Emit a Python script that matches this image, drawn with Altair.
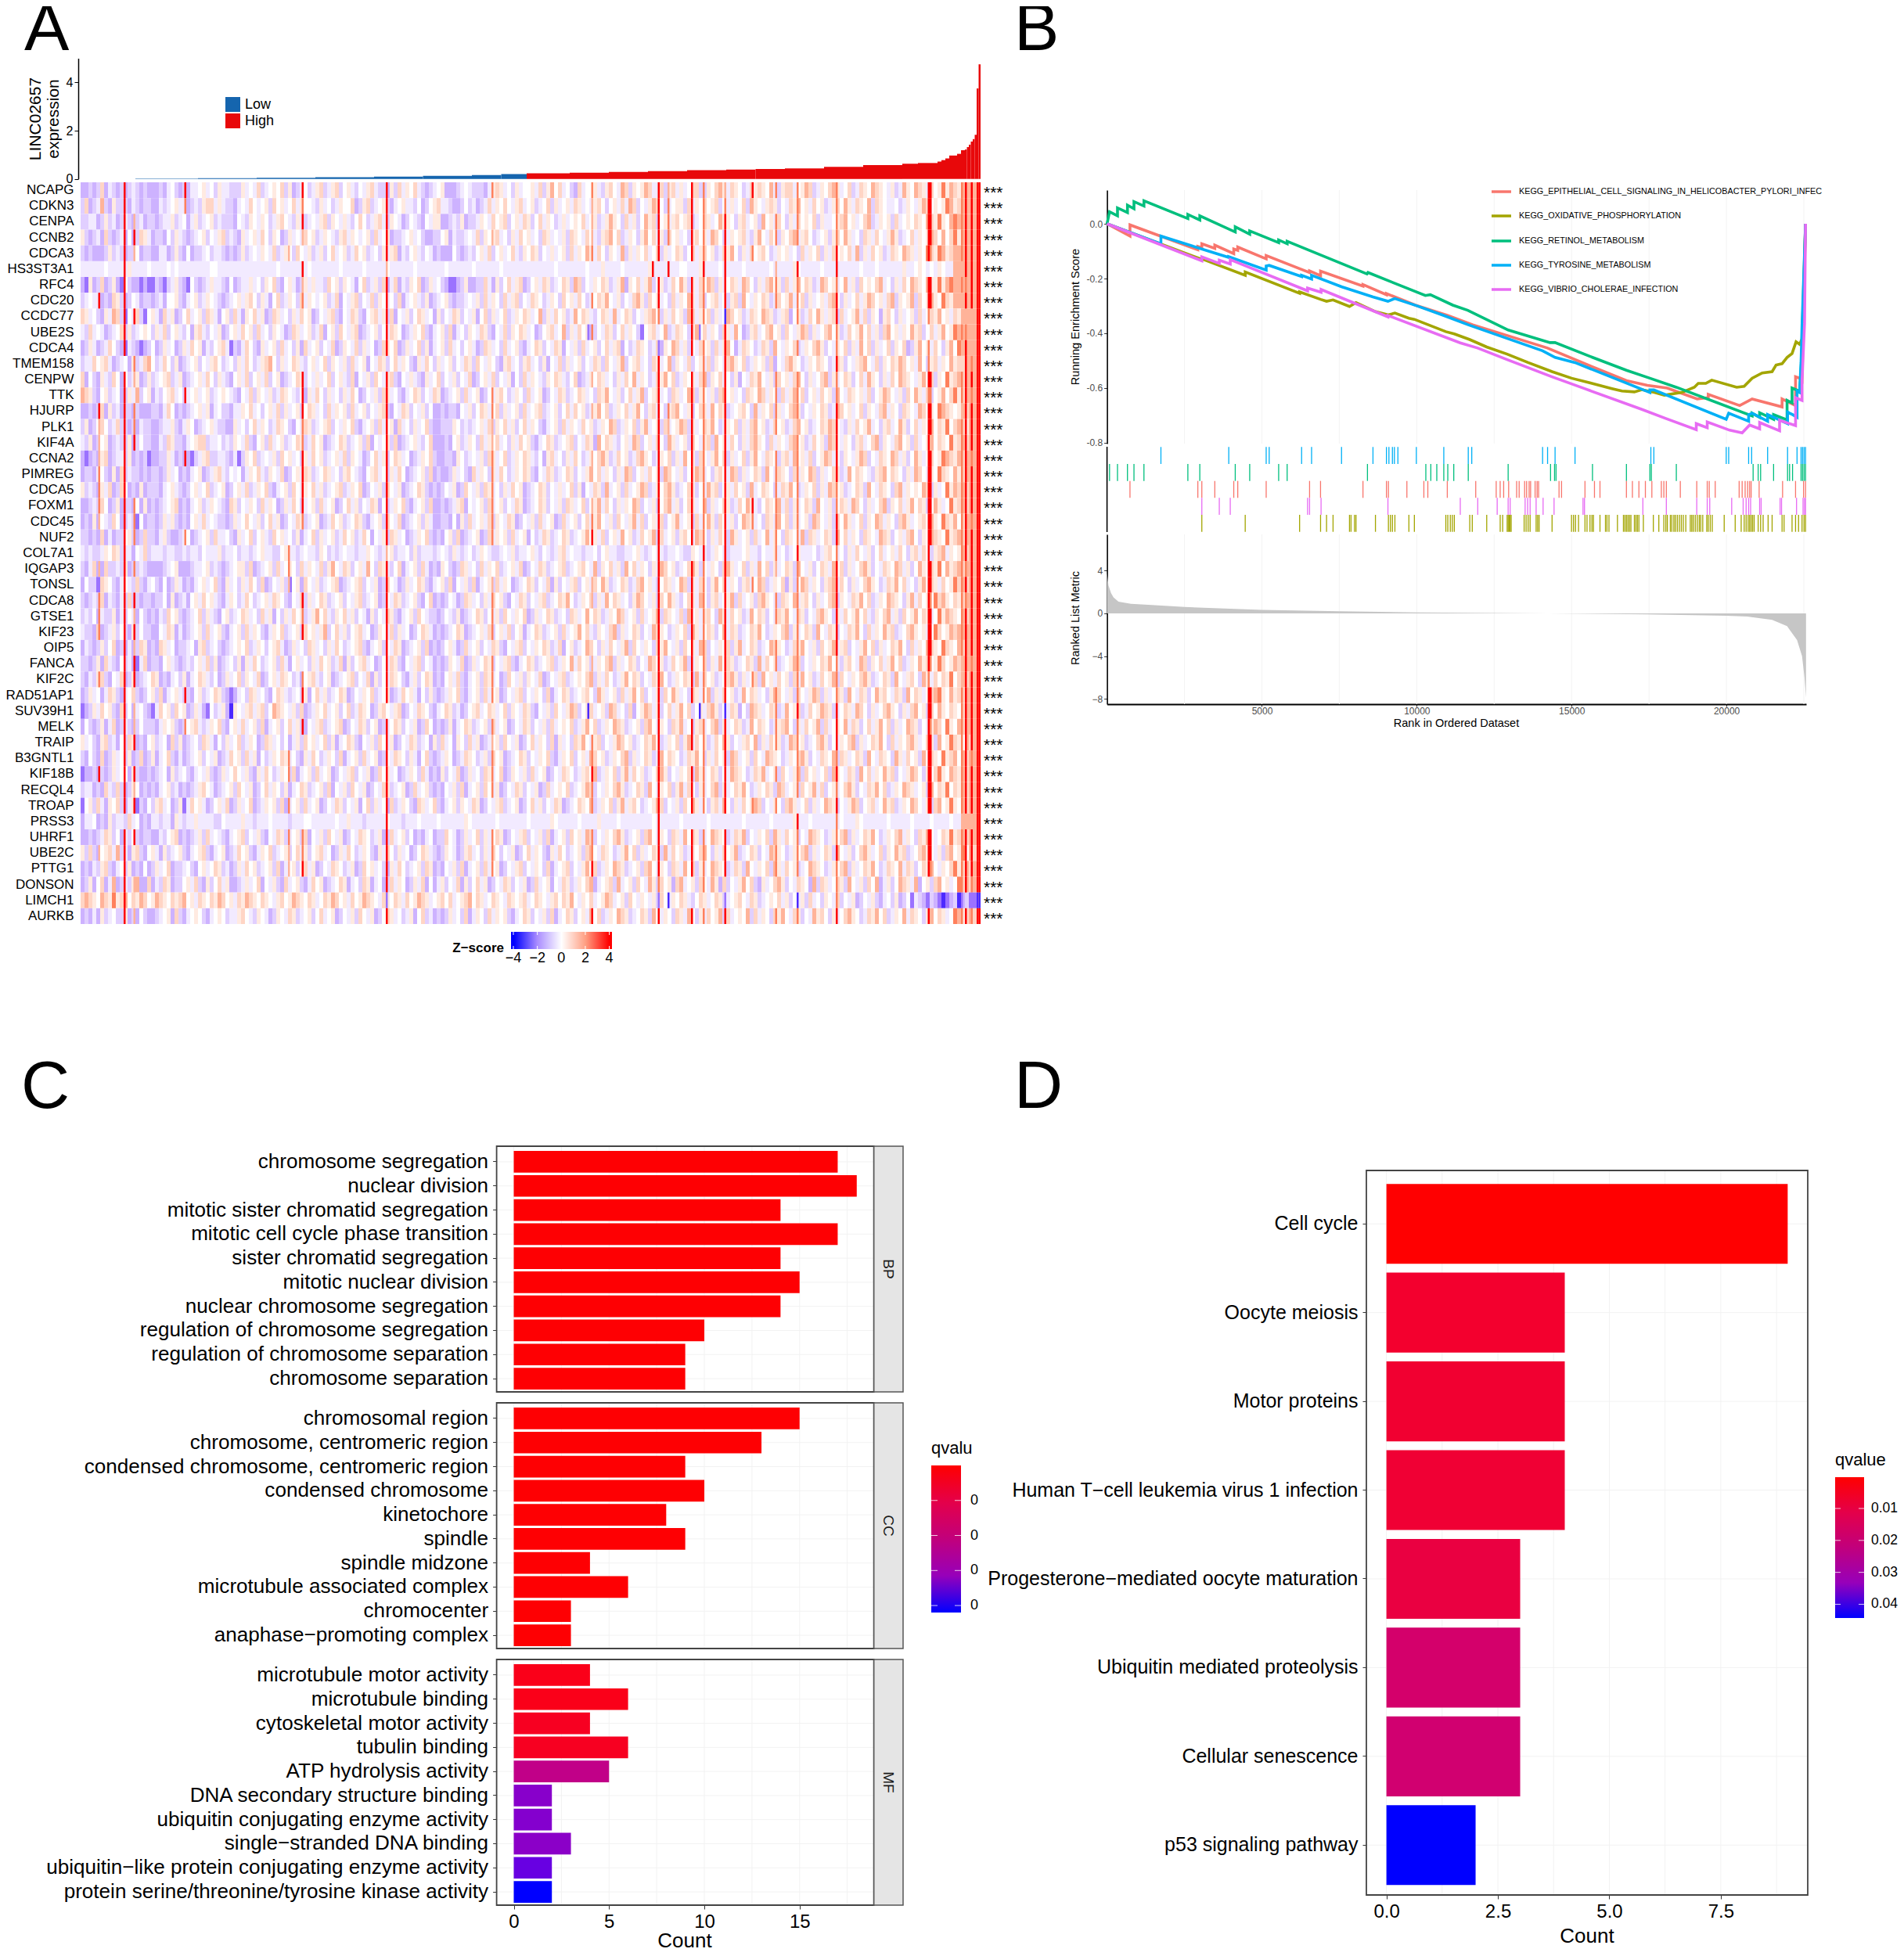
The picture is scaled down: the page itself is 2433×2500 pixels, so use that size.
import altair as alt

W, H = 2417, 2484
OX = 8
FONT = "Liberation Sans"

def px(v):
    return v - OX

def sc(dom, rng, **kw):
    return alt.Scale(domain=dom, range=[px(rng[0]), px(rng[1])], nice=False, zero=False, **kw)

def band(dom, rng, pi=0.0, po=0.0):
    return alt.Scale(domain=dom, range=[px(rng[0]), px(rng[1])], paddingInner=pi, paddingOuter=po)

def D(rows):
    return alt.Data(values=rows)

L = []

def T(txt, x, y, size, align="left", baseline="middle", angle=0, color="black", weight="normal"):
    L.append(alt.Chart(D([{"t": txt}])).mark_text(align=align, baseline=baseline, angle=angle, fontSize=size,
             color=color, fontWeight=weight).encode(text="t:N", x=alt.value(px(x)), y=alt.value(px(y))))

def BOX(x0, x1, y0, y1, fill="transparent", stroke=None, sw=1.5):
    kw = {"fill": fill}
    if stroke:
        kw.update(stroke=stroke, strokeWidth=sw)
    L.append(alt.Chart(D([{}])).mark_rect(**kw).encode(x=alt.value(px(x0)), x2=alt.value(px(x1)), y=alt.value(px(y0)), y2=alt.value(px(y1))))

def GRAD(x0, x1, y0, y1, stops, vertical=False):
    g = alt.Gradient(gradient="linear", stops=[alt.GradientStop(color=c, offset=o) for o, c in stops],
                     x1=0, x2=0 if vertical else 1, y1=0, y2=1 if vertical else 0)
    L.append(alt.Chart(D([{}])).mark_rect(color=g).encode(x=alt.value(px(x0)), x2=alt.value(px(x1)), y=alt.value(px(y0)), y2=alt.value(px(y1))))

# ---------------- Panel A data ----------------
genes = ["NCAPG","CDKN3","CENPA","CCNB2","CDCA3","HS3ST3A1","RFC4","CDC20","CCDC77","UBE2S","CDCA4","TMEM158","CENPW","TTK","HJURP","PLK1","KIF4A","CCNA2","PIMREG","CDCA5","FOXM1","CDC45","NUF2","COL7A1","IQGAP3","TONSL","CDCA8","GTSE1","KIF23","OIP5","FANCA","KIF2C","RAD51AP1","SUV39H1","MELK","TRAIP","B3GNTL1","KIF18B","RECQL4","TROAP","PRSS3","UHRF1","UBE2C","PTTG1","DONSON","LIMCH1","AURKB"]
bar_end = [28,60,90,120,150,175,200,215,228,250,270,290,310,330,345,360,380,400,420,428,438,440,442,444,448,450,452,453,454,455,456,457,458,459,460]
bar_val = [0.002,0.015,0.03,0.05,0.07,0.095,0.13,0.16,0.2,0.23,0.26,0.29,0.32,0.36,0.39,0.41,0.44,0.50,0.57,0.63,0.66,0.72,0.78,0.85,0.97,1.04,1.19,1.22,1.32,1.42,1.55,1.65,1.83,3.75,4.75]
LOW_END = 228
Z = {"a":-3.6,"b":-2.4,"c":-1.3,"d":-0.8,"e":-0.35,"f":0,"g":0.45,"h":0.9,"i":1.6,"j":2.6,"k":4}
heat_base = [
"ccdcdhcedcdcdedcdcccdcefdcdceefgefdgeedddgefehdefgfhdgcdefdeghdeghdfgedfegheddcgdhegfhedcdefgcccdefedddceghgefdgeffgehdgifhefdcheffgedghfeihdgfgiheehdghegefhhddgfhigehgfdehghgfiedghhefgihdegfhigefhdehgfihgfegdeigfihgehfgjgihg",
"dhcdeidcgdddcedcddccedefgeecdedghhegeddcefehfefgdhfgefhegffedgefdegffhcdghdefgdcefgeedfcdfgheedccdfdecdehegfhfeghefgdefhdgefgehgefeghfdfgeheihdfegihfdefggdhegfhfghdfegefhdigfeghgdfehgifgehfgdeghfigehgfidhgfeefdegfegihfgfgjigh",
"ddeecdgdecdedcdecddcdeegdefcegdefgdedddcfedgfegfdeghfedgedefeghdgfegedfhfdeghedgfecdfedcfeggccdedgcddegfehfghdfgehgdfhegfdegefgfhefgdegigfdhegdfighdfgeghfghdefhgefiggfdghefgdifgehfdgehfgfhdgeefghifgefhidegfgdhefgfhgfihgjgfij",
"gdcdechdcdecfcdhgecddcfdgedcdefgdfeghdedcgefgehfdgfcdgefehfgdegfedghegfefgdhefgcddefgefdccddfgceddefehdgfghefdgehfgefdhgefegdhgfehfedghifhdegfdgifhegdhfgefdghfgeihfdegfghedgifehfdgfhieghfdefgdghfigefdhgehfegigdefhegfgihfifhjg",
"dcdcccdgdedcddfcddcceecdgdcfcddefdeedcdcdgdefegfehdegfdhfegdegdfhefgdehfgdefdgeghcedfgedfecdcccfdcdedfgehdfgefhedgfhgdfegefgdhegfigehfdgfeidgegfhefhdgefhgdfheghfgdehgifdgehfghfdegfgefdhegfhdgehfgfheidgehfgdehgfihgegfjhgjigh",
"eeeeeefeeeeegeeeefeeeefefeeeeeeeeffeeeeeeeeeeeeeeefeeeeeeefeeeeeeefeeeeefeeeeefeeeeeefeeeeeeefeeeeeefeeeeeefeeeeeeeeeeeeefeeeeeeefeeegeeeefeeeeeegeeeeeeeffeeegeeeefeeeeefeeeeeefeeeeegfeeeeefeeeeeeeeefeeefeeeeeegeefgfefegfee",
"cbgcdhcdgcbfdccbcbbdcbdegdcbfdcdegeedcfcdeegefdgfhdcfgecdgegeedhfgdgfecfhdegdhcehcedgfhcdgefdcbbcdgccddhecgdfheghcdfgehgdefhgdihdfegfhgdegicgfhegidfgdehfigdgehfihdgefhgeihfdgehifgdhegifhgdeihfgefiegdhfgfhiefdgehfihgfiggjgij",
"defeecdchgdcdfecddcdecffgdcefgdegfedcdefgeghfdgecfhdegfdhegfefgdehcfeghdfehdgfefdhcefgedgcdefgdcddefegdhegfdheghdfehgfdegfdhfgehfdefhgifegdfehigdhfgefdhegfigehdfghefdghdifegfhgdehfgiefhdgefgehifdgefhegihfgehidgfgidhfgigfjhgi",
"hgefdcgeihdbfehdbfgechegcdfhefgdhgecfgdhecgfhegcdhgefdgehfgcdfeghdcfehgdcfghegdhcfegdfhgefcgdfehgdfegcfhdgefhdegfhgefidgehfgdeifhgedfhgeiefhgdfeghifdgehfgdihegfhdgefihfgdehgfihgdeghcfgdehfigeghdhefgiehdgfcghfdgefgdhefhgifgehg",
"edhefecdefhdgdefgfdgehdfgedfcghedfegcdfgehfgdhefdgfecdhgefgdehcfgdhfeghcdefgdfehgfcdegfhdcefgdhcefdgfehgdcfehdgfhgefcdfghefidgehfgcdfehgdfhegfdbfghefidehgfdgifhegfdhgeifcdghefhifgdhfegihdgefhifgdehfgifhegdhifgegfighdfhegifgj",
"cdgecdehfdcbedcbcdfcdgefcdgehfgcedfghebdcehfdcgefgdhefdgchefgdfehcdgfehdgefcdhgfhcdgefhdgcefgdhefdfgecdhgefdhefgdcefhgdfehgcfegdhefgdfheghcfdehgfdehcgfihegdfehfgdhegifcehgfdehgdifegfhdegfhigdfegfhdgeifhdgefhdgfhcdgifgehfdgifj",
"deehfghecdefcgdehifdehfdgcdefgdfeghfdefdgehfdeghifdgefhgedfgefhdgfegdhefgcfehgdfhegfdcgehfdgefgdfehgdhfegfdcghefdghefdgcfehdgefgdfehgdhfegidfghefdhgefidgfehdfgehdgfehigfhdegfgdhcfehigfdegfhgfdehgdfeghifehdgfhgihfgeifdghegfighhi",
"hcfdcgedhfcfdegcdgdefghdegcdefgehfdgedcfgehdfgehdfgcdefhgdfegefhdfgedhcfegdhfeghdcfegedcgefhdfegdfehcdfgehdfegcfdhegfedgfhgedfhcdegfhgefdgehfiegfdehgifhdegfgehidgfhefdgcfehgifegdhfgehifdgefhidgefhgdfheigfdgehfihgfegifhdgfjghih",
"ihgdcfgdefcdgeidfgcedfghefdefgefgdefgfedcfehdgfegdehgfedfcgehfdgefdgehfcdfegdhgefdcefhgdfehgcdefgdhefgcdfeghfdegfdhefgcdfehgdefhgefdhgifegdfhegidfghefdhgefihdgfegdhifgefdhgfihegfdhegifhdfgehfgdifehgfgehdfgihfegdhfigehdfgifhjghi",
"ccdcdhcgdecddcdcccddcehfcdcdefgegcefddceegfhefdfgehdgefgdfhgefdhegfgdhefgdfeghdcfehgdfegdfccdcddcfegdfhgefhdgefgdhefghdefgdfhehfgdegifhdegfhegifdghefdghifegdfhgeifhgdefghfdiegfhdgefhigdfegfhgdeihfgefhdgfehiegfdhgfeihfgfjihgfgih",
"dgcdfhfdehddcdceddccdeegdcegfcdefgeddccgefdfhegfdehgfdcfehgdefghdfegfhdcefgdhefgchefdgefhdccdddgfdedefgehdgfhegdfhegfdcefgdhegfehfgdegfihdegfhdgiefgdhefgihdgefhgifdegfhdgehifgdehfgdehifgdefhgihfedgehfgiefdghefigdfhegfifhgjfhihg",
"edgcdfgcdeddgcdfddccedhgddcefghhdeefdedgfehdcfgdhefgdefhgdehfgcdefhgdefgdhcfefgdhcdefgedfhcccdcfgdegfdhegfhefdgehfgdcefhgdefghdfehgcifhgedfgeihdfgehfdigefgdhfeghdifgehfdgehigfdhegfehifgdehfgdihfegfdghefhidgfehifgdhefgifhgfjghih",
"cbcdcghcdeedgcdcdbccddgecdccbdeghddeedcebdgfhdefegdhfgefdgehfgdefgehdgfecdfhegdfhgefcdegfhdccddcgfdefegdhgefhdegfhgedfcghefdgehfdegfhigdehfgdehigfdegfhdgeifgdhfegifhdgefhdgifehgfdgheifgehdfgihefdgfegihdfehgfihegdfigefhfgjihgih",
"cddcefdcgchdeddcdcddcdgefcdcefgcdeghedfefcegfhedgfehcdfgehgdefhgefdghfedcfghefdgehfcdefgdhcdccdgefdchegfdgehfdegfhgdcfehgdefhgdfegifhegfdgeihdfgehfgdihfegdfgihefdghfeihdgefhgdifehgfdhegfihdgefhgdeifhgfedghifhgfdgeihfegfjhgfighi",
"gdedcgehcdhfcdcgcdddcefgedcdfgefhdefgcdfgehdegfhdcefgdhfegfhegdefghdegfhcdfegdhfegcdefhgdcdcdfegcdhfegdhgefdgehfgcdefhgdfegefhdgcfehgdiefgdhefgihdegfhigdefhgdfeighdfgehfgdiefhgfdehgifdegfhdgeihfgdefhgdifehgfdhiegfgfihdgefjgihih",
"ccdedhfcdgcddcfcgcdcdefghcdcefgdegfedchgdfegfdhegfcdgehfdefgdhefgcdfhegdfehgcfdegfhdcefgdhccdcdeghcfefgdhefgdfehgcdefhgdfegdhgefhdfgiehfdgegfihdfegdfhiegdfhgefidgefhgdehfigedfhgfiehdgefhgdifegdfhgeihfdgefhidgfhegifhgdfigefjghih",
"cdcgcfedhfcdedbfcddcdgegdcdcfgehefeddcdgefhfegdfhegcdfehgdefgcdehfgdefhgdcefgdhfehcdefgdgeccddcfcgdhefgehdgfehgcdfegdhefgcdhefgdfhegifegdhfegiehdfgehdfgiefgdhefigdhfegdfihgefdhgeifhdgefgdihfegdhfigefhdgfihegfdhigefghfigfjhgifhi",
"ddcdchcecddfgdcdhddcegdccdefcdefgdheefdcgefhdfgedhfgefdgcefhdgefgdehfgdehfcfegdhgefcdegfhdcdcfgdhcdefgcdhegfgdhefgcfdehgdefhgdefgifgehdfgeifgdehfgidhefgdghfeihfdgehfdigefgdhefiegfdhgfeidhgefhgdifhegfdhgfeihgdfgehifdgfihgfjghih",
"ededdegfhgdeecfehdeeedeeddedeedfeeegdeefdeedefgeeddfgeedefeedgfdedefeedeegfedefgdeefdgdeeedefedgedefdegfeddefegdeefgedfedeghefeedeefdfgeeddeefgedefeedeefeddgfeedegfedeeefgeedfeegefdefgeeefdeghfefdgehfegdfhefgehfdghehfdghiegfgih",
"dcehcchddedgcddedccccdefgcccdeefgdedcdefggdhcdefgdhefgfdhegfehdgifehgdfgeifdhgedfhcefgdhecdcgfdcdhgefdhegfhdefgehcdfehgdefghdefghfeidgfhegdifhegfdgeihfgdefhigdfegfdhigefhdgeifhdgefhgdifegdfhgeifhdgefhigdfehgfihegdfigfhgjfighih",
"cfddbhgfdcefedhdcefdcfcdgecdcefgefhdcgefdgehfdhcdfegdbfgchfegdefghcdefghdfegcdhfecdgefhgdcefgdhcfegdhcefgdhegfcdefhgdfehcgdfeghdfgehfigdefhgdehifgedfhgefihdgehfdgifhegfdghefihdegfhcgdfihegfdghiehfdgefhigfdehgifhefdgifhgehfgjhih",
"dcdedhcedcedhddcddcddfcgcdecfgehfgedcegfdehfdefgehgfdcfehdgefhgdefgdfeghdefgcdfehgdefgdcfhcdcdfecdhgefdgehfgdcfehgdfeghdefhgifdegfhdgeifhgefdgihfegdhfigedfhgeifdghefgidhefgdhigfedhgfieghfdgefhidgfehgifhdegfihgfdgiehfgfjhigfhghi",
"dedfceddgcedfecfdcdcedhfgdcdefhdgedcfgdefhgefdhegcfdgehfgdegifhedgfhegdfecgdfehgdcefgdhfeddcdfedgcdefhgdfegdhfegfhcdgefhgdefdhgefifhgdegfihefgdhefgidhgfehdifgeghfdigehfgdeifhgdfehgifehgdfehigfdgehfgifhedgfhiegdhfgifhgefjgihgfih",
"eddchcdegdfdcgdfddccfehgcecdefgdhefgdcefgdhegfdcegfhdefgdhfgegidfhegdfghefcdgfehdgefcdfhgecdcdefhgcdefgehdfgehdfgcefhgdefgdhefgifhedgfehidgefhgdfeihgfdegfhdigefhgdfiehgdefhgifdegfhidgefhgdifehgdfehgifdhegfighdefhigfgefjhfgihi",
"cedcdgdfhcdcecdhgcdchgefcddefcghdefdcdefgfhdegfdfghecdgefdhgefdgehfdefghdcefgdfehgcdefgdhcdcdfgecdhefgdfehgdcfeghdfegfhgdehcfgdefihfdgehfegidhfegfdhgifegdhfgeihdfegfhdgiefhgdefihgfdehgifegdhfgieghdfegifhdgefhgifdhegfihgfjhgfihi",
"ddcdgchedcfdecbehcddcfgedcdedfgehdgcdefdgcgehfdefgdhecfgefdgehfgdehcgdfghefcdfehgdcfeghdfecdcdgfehcdgefhgdfeghdcefhgdefghdegfiehfgdegfhidgefhgdfeihfgdehfgidegfhdgeifhgdefhgdiehfgdefgihdfegfhgifedghfeihdgfhegifhdegfighfgjhfgihi",
"dcedghdcfehcdgcdefhgcdcefdgcefhgedfcdgefhdgfehcdfgehgfdecfghedfgcdefghdfehcgdfehgfdcegdfhgcdcfgehdcefgdhgefcdhfegdgfehcdfeghdefgfhidgehfdegifhgdfehgifdegfhgdiehfgdefhigdgefhdifgehfgdheifgdehfgidhfegfhigdefhgdifeghfdigehfhgjfhih",
"cdgefcehgdcefhdcdfgdhcefgeddcfgdefhgdcbcefdhgefdcfhgedefdgcfhegdefhgcdfegfhdefgcdehfgecfdgdcdegfhdcefgdhefgcdfeghdfegfdhcefhgdefghfdigefgdhegifhdfegdhfigefdhgefidgehfgdeifhgefdgihfegdhfegihdgefhgdifehgdfighfehgdifhgefhijgfighhi",
"bcdgehfgdchdfcefdcbehfgdhfgcdgecbfdegcagfegheghdfihgfegdhcdegfhefgdfhdehgfcdghfeghcdfehgfdcefhgdecdfghefhgefhdgfehgdcfegdhfegihdfghefgdihefdhcfgihegdfhegifhdfgehigdfehgcfdihgefhgdeifghdehfgihgdefhgeihfdgefhigfdgehifgdhfigfhgfhi",
"cfdcdgcehcdedcdfdddcegfgdcdfghedegfhdcfgehefgdhcefgdfhegdcfeghdefghcdfehgdfgcdefhgdfegcdhfcdcdgcefhgdefgdhefgcdfehgdfegdhefgfhdegifhdegfihgdefgdhifegfdhgiefdghefhidgefhgdeifhgfdeghifdgehfgidhefgfiehgdfhegifhdgefihgdfegihfjgfihi",
"gefdcghdecfdhgcdcfgdefchdgcdefdhgecfdgefhdegfcdhgefdfcegdhfgefhdgcefhgdcfegdhfegcdfehgdefcgdhefcgfdhegcdefgdhfegcdfhegfdhcgefdhgifeghdfegihfgdefhgifdegfhdgiehfgdehfigdfeghfidgehfgdeihfgdefhigdfegfhidgefhgifdhegfhigefhgdifgjhgfih",
"dcfdchcdgefdgcdhcdgcefhdcecdefgdfegcdehfgdhegcfdegfhgefdcgehfdegfdhcefgdhefgcdfehgfdgecfhdcdegfcdehgfdegdhfgcdefhgdfegfhdcegfhdfgeihfgdegfhidgefhgdeifhgfdehgifdgehfgdihefgdhfeihgfdegfhigdfehgfidhgefhgdifehgfdigehfgdifhgfjghifih",
"bccdcdcdgeffcgdccdcdefcgdefdcefegdcdgefhfegdcgehfdegfdhcefgdhefgcdfeghdfegcdhfgefcdegfdhecdcgdfehcdgefdhgefhcdgfegdhefgcdfehgfdeghfidegfhdgiehfgdefhigdfegfhdigefhgdfeihgfdehgiefgdhfegidhfgefhdigfehgdifhegfighdfegihfdgfhjgfihgih",
"deecdchedhdcdgfcdcdcefgdecdcdeghfecdefgdhfegcdfhegfdgcefhgdefgdhcfegdhfegcdfehgdefgcdhefgdcdcfegdhcefgdhfegcdfehgdfegcdhefgfhdefgihdfegfhigdefhgdifegfhdgiehfdgefhidgefhgifdegfhgdihefgdhfgiehdfgefhigdfehgifhdegfihgefgdifhgjfhgih",
"bfgdhecgfhdcegbdcfdghefcdgbehfgecdfgehcdgefhcdegfgdhcefgdhefgcdfehgdfegcfhdgefchdegfdchgefhdcefgdgfehgcdfeghdefgcdfhegdfehgcdefhgfidegfhdgieghfdefgihdfegdhfigefdgheifdgehfgihdfegfdhigefhdgefihgdfegihdfghefighdegfihfegdhifgjgfih",
"ceefcdcgdeedhefcdceedeecgedeegeeeeddfeeeegeedeeefeeeedeeeffeeeeeefeegeeedeeeeefeeedeeefeeeefeeeeeegfeeeeeefeeeeeeefeeeeegfeeeeefeeeegeeeefeeeeeeeefeeeeeefeeeeeefeeeeeeeefeeeeeefeeeeegeeefeeeeeeefeeegfeeeeeefeeeeefeeeefeeeefee",
"ccdcdehgdfcedfdcddccedfghcdcdegdhefedcefghdfegdcfehgdefgdhcfegdhfegcdfehgfdegcdhefgdfcdcefcddhfecdgefhdgefhgcdfeghdfegdhcefgdhfgeihdfegfhigdefgdhifegfdhgeifhgdefihgfdehgidfegfhdigehfgdfeihgfdegfhidgefhgifdegfhiegfdhgifefhgjghihi",
"gdhdcfgheidecghdcfgecgdefgdcefghdcefgcdehfgdcegfhdefgdfhegdfghefcdgehfdegfdcgehfdgefcdfhgedcdgfecdghefdgehfdfegcdfhegfdcgehfdefgdhifehgfdegifhdgefhgdiehfgdegfhifdgehfgidefhgdfeihgfdegfhidgefhgdifegdfhigefhdgfighdefhigfegdhifgjfih",
"cdcedghdcefdgcdcfcdgefhcddefdcfgefhgdecdgehfgdefgdhcefgdfhegcdfehgfdegcdhfgefdcgehfdefgdhgcdcfegdhcefgdhefgcdfeghdfegfdhcefghdfegifhdegfihgdefgdhifegfdhgeifhdgefihgfdehgdifegfhdigehfgdefihgfdegfhidgefhgifdehgfiehgdfhgifegfhjghih",
"cdgcfhceicdedgicchcedhgcddfgehdcgdfhegccdegefhcfegdchefgdcehfgcdefhgcefdhgcefcdhegfcdgehcfcegdfehcgdfhegcdfehgdfegcdhefgcfehgdegfhicefghdiefgdhfeigdhfgchiefgdhfeigchdfegifhdcgefhigdfehgfcidhgefhgdifegdhficegdfihgeicfgdhifgefjhih",
"hihgfihgjghifhgihfgihgfhghifgehgfhgihfgehgihgfhgfeghfgihgfhgefhgihfgehfgihgfehgfhgehfgihgefghfhefghifhgefhgfehgfghefhgfeghfhgifegfhefgihefgdhfegfegdhfegfhgedfhgefhgdefghfehgdefgfhegdfegdhefdgfehdfegcdfegdcefdgcdfbedcbdcbabcdacdbb",
"cdcecgdefddgcdcfdccdefgchdcefgfdcefgfdeeghfedgfecdgfehgdefgdfhefgcdfegdhfegcdfhgefdegcfhdecdcdgefdhcegfdhegfgdcefhgdfegdhcefhgdfgeifhdegfihgdefhgdifegfdhgeifdgehfgidhefgfidhegfdhgifehgdfeighfdgefhigfdehgifhdegfiehgfdgifhgefjighih",
]
heat_base = [s.ljust(230, "i")[:230] for s in heat_base]
stripes = {
9:".......k.." "....kiiijj" "ji..i.jjj." ".j.....k.." "..i....",
22:"kkkkkkkkkk" "k.kkkkkkkk" "kkkkkkkkkk" "kkkkkkkkkk" ".kkkkkk",
27:"..iki...k." ".ji.jjk..." "jjj.j.kiki" "kk.iik.kik" ".k..i.i",
53:"kj........" "...k...k.." "..j......." "..k.j....." ".......",
106:"....i....." ".........." "...jji...." "......jj.j" ".jii...",
113:"kjki.kij.." "..kkkjjkkk" "kj....kjk." ".jk.k....." ".jjk...",
156:"kkkkkikkkk" "k.kkkkkkkk" "kkkikkkkkk" "kkk.kkkkkk" "kkkkkbk",
210:"j..i......" "...jjiijjj" "jjj..ijjj." "jjj.jijjj." ".jjj...",
259:".........b" ".........." ".........." "...a......" ".......",
261:"jiiij..j.j" "..i.i..i.." "ijk..ii..." "i....jjkjj" ".jjk..k",
292:".....k...." ".........." ".........." ".........." ".......",
295:"kkkkk.kkj." "bkkkkkkkkk" "kkkkkkkkkk" "kkkkkkkkkk" "kkkkjbk",
300:"ijjj.k...." "....ji...." ".........." ".........." ".....a.",
312:"kkkkk.kkkk" "k.kkkkkkkk" "kkk.kkkkkk" "kkk.kk.kkk" ".kkk..k",
316:".........b" ".........." ".........." "...a......" ".......",
318:"jjjjjkjjj." "jjjjjjjjjj" "jjjkjjjjjj" "jjj.jjjjjj" ".jjjj.j",
329:"ijkkkkkkak" "kkkkkkkkkk" "kkkkkkkkkk" "kkkakkkkkk" ".kkk.bk",
343:"ki..j....." ".........." "kj...j...." ".j.......j" ".......",
355:"j.jj.ijj.." "..jjjj.jjj" "jjjji.jj.j" "j.jjjj.j.j" "..jj..j",
366:"jjjj.kjjj." "j.jjj.jjjj" "jjjkjjjjjj" "jjjkjjjjj." "kjjj.aj",
386:"jjjjkkjkkj" "jkjjkkkkkj" "jkkjkkkkkk" "jjjkkkjkjk" "jjkjjjk",
433:"kkkkk.kkj." "jjkjkkkkkk" "kkkkkkkkkk" "kjkkkkkkkk" ".kkk.bk",
434:"kkkkj.kk.." "..kjkk.kkk" "kkk.kkjkkk" "j.kkjkkkkk" ".kkj...",
450:"jjjjj.j..j" "..jj.jjjjj" "jjjjjjjjjj" "..jjjjjjjj" ".jjjjbj",
452:"kkkkkkjk.j" "kkkkkkkkkk" "kkkkjkjkkk" "kkkkkkkkkk" ".kkkk.k",
455:"kkkkkkkk.." ".jkjkkkjkk" "kjkkkkkkkk" "jkkkkkjkkk" ".kkkjbj",
458:"kkkkkkkkkk" "kkkkkkkkkk" "kkkkkkkkkk" "kkkkkkkkkk" "kkkkkak",
459:"kkkkkkkkkk" "kkkkkkkkkk" "kkkkkkkkkk" "kkkkkkkkkk" "kkkkkak",
}

# ---------------- Panel B data ----------------
es_red = [(0,0),(741,-.045),(741,-.004),(2932,-.095),(2932,-.083),(3061,-.088),(3061,-.073),(3480,-.09),(3480,-.078),(4092,-.109),(4092,-.092),(4221,-.097),(4221,-.085),(5139,-.128),(5139,-.116),(6540,-.178),(6540,-.172),(6895,-.19),(6895,-.173),(8264,-.228),(8264,-.222),(9022,-.259),(9022,-.255),(9956,-.297),(11003,-.335),(11809,-.369),(14225,-.454),(15836,-.53),(16771,-.573),(17447,-.59),(18092,-.6),(19058,-.64),(19413,-.635),(19413,-.623),(20428,-.664),(20830,-.64),(21797,-.669),(21797,-.64),(22232,-.664),(22232,-.559),(22361,-.564),(22441,-.573),(22554,0)]
es_olive = [(0,0),(3061,-.13),(3061,-.128),(4462,-.188),(4462,-.176),(6218,-.254),(6218,-.249),(6895,-.276),(7088,-.283),(7298,-.278),(7829,-.302),(8039,-.288),(8667,-.321),(9086,-.333),(9295,-.326),(9747,-.345),(9924,-.349),(10939,-.394),(11213,-.402),(11712,-.423),(12260,-.45),(12920,-.476),(13597,-.507),(14370,-.54),(14998,-.564),(15659,-.583),(16303,-.602),(16626,-.611),(17028,-.614),(17270,-.606),(17673,-.616),(17995,-.626),(18559,-.616),(18962,-.597),(19090,-.583),(19332,-.583),(19525,-.571),(20331,-.597),(20572,-.594),(20830,-.564),(21153,-.545),(21475,-.54),(21603,-.516),(21797,-.511),(21958,-.488),(22119,-.474),(22248,-.431),(22361,-.44),(22441,-.421),(22554,0)]
es_green = [(0,0),(81,.044),(338,.029),(338,.058),(660,.041),(660,.068),(870,.055),(870,.081),(1192,.065),(1192,.084),(2610,.019),(2610,.034),(2996,.014),(2996,.029),(4140,-.03),(4140,-.011),(4607,-.038),(4607,-.026),(5542,-.069),(5542,-.059),(5816,-.073),(5816,-.064),(8393,-.183),(8425,-.178),(10278,-.262),(10439,-.259),(11164,-.297),(11648,-.316),(12952,-.388),(14305,-.434),(14466,-.434),(15675,-.488),(16771,-.535),(17528,-.564),(18382,-.597),(20830,-.702),(20830,-.692),(21072,-.707),(21072,-.69),(21523,-.714),(21523,-.697),(21958,-.716),(21958,-.645),(22119,-.654),(22119,-.6),(22361,-.611),(22393,-.564),(22457,-.421),(22554,0)]
es_blue = [(0,0),(1740,-.073),(1740,-.045),(3931,-.123),(3931,-.12),(5139,-.169),(5139,-.154),(5236,-.152),(6283,-.193),(6283,-.188),(6605,-.202),(6605,-.188),(7572,-.23),(8587,-.267),(9070,-.283),(9295,-.273),(9988,-.299),(10874,-.335),(11664,-.369),(14064,-.464),(14467,-.488),(15111,-.507),(17528,-.616),(17528,-.607),(17657,-.607),(19993,-.714),(20073,-.692),(20717,-.721),(20717,-.697),(20830,-.692),(21330,-.721),(21330,-.697),(21974,-.73),(21974,-.688),(22135,-.697),(22280,-.707),(22280,-.611),(22361,-.616),(22409,-.507),(22441,-.373),(22490,-.212),(22554,0)]
es_mag = [(0,0),(3061,-.135),(3061,-.121),(3625,-.145),(3625,-.133),(3979,-.147),(3979,-.131),(6476,-.245),(6476,-.235),(6911,-.25),(6911,-.24),(9070,-.34),(9070,-.335),(11406,-.435),(11970,-.454),(12936,-.497),(14370,-.559),(15417,-.602),(17270,-.678),(18043,-.711),(19026,-.752),(19026,-.73),(19380,-.745),(19380,-.724),(20105,-.754),(20508,-.764),(20749,-.735),(21072,-.749),(21072,-.726),(21716,-.756),(21716,-.718),(22232,-.737),(22232,-.635),(22441,-.645),(22441,-.573),(22522,-.364),(22554,0)]
rug_blue = [1740,3931,5139,5236,6283,6605,7572,8587,9022,9102,9215,9279,9392,9988,10874,11664,11777,14064,14225,14467,15111,17560,17657,19993,20073,20717,20814,21330,21974,22280,22409,22457,22506,22554]
rug_green = [81,338,660,870,1192,2610,2996,4140,4607,5542,5816,8409,10294,10455,10648,10874,11003,11196,11664,12952,14321,14450,14498,15675,16771,17528,17576,18382,20862,21024,21104,21523,21974,22039,22135,22409,22457,22506,22554]
rug_red = [741,2932,3061,3480,4092,4221,5139,6540,6894,8264,9022,9086,9682,10230,10358,10987,11905,12566,12694,12807,12968,13226,13307,13484,13548,13629,13677,13822,13887,13935,14595,14676,15433,15739,15917,16771,16964,17174,17383,17592,17898,17979,18060,18511,19042,19380,19445,19638,20411,20508,20604,20685,20749,20798,21056,21813,22232,22490,22554]
rug_mag = [3061,3625,3979,6476,6540,6911,9070,11406,11970,12598,12952,13017,13500,13581,13661,13855,14080,14434,15369,15417,17302,18060,19042,19380,19461,20170,20540,20636,20717,20781,21072,21120,21732,21780,22264,22474,22522,22554]
rug_olive = [3061,4462,6218,6895,7088,7298,7829,7878,7991,8039,8667,9086,9150,9215,9295,9747,9924,10939,11003,11084,11148,11213,11712,11793,12260,12695,12775,12920,12952,12985,13017,13049,13468,13532,13597,13661,13855,13903,13951,14370,14998,15063,15127,15224,15433,15498,15594,15659,15707,15917,16094,16142,16207,16481,16674,16722,16771,16819,16868,16916,17028,17077,17125,17174,17318,17640,17817,17979,18043,18092,18189,18237,18301,18350,18414,18479,18543,18607,18688,18833,18881,18930,18994,19058,19123,19171,19235,19364,19413,19477,19542,19928,20283,20476,20573,20637,20701,20749,20798,20846,20895,21024,21104,21185,21346,21475,21797,21861,22119,22232,22329,22441,22506,22554]
metric = [(0,3.8),(48,2.6),(129,1.9),(209,1.5),(370,1.1),(773,.9),(1337,.8),(2500,.6),(5000,.33),(7500,.2),(10000,.1),(12620,.03),(14225,0),(17447,-.1),(20000,-.22),(20670,-.3),(21475,-.6),(21958,-1.2),(22280,-2.5),(22441,-4),(22522,-6),(22570,-7.9)]
names_b = ["KEGG_EPITHELIAL_CELL_SIGNALING_IN_HELICOBACTER_PYLORI_INFEC","KEGG_OXIDATIVE_PHOSPHORYLATION","KEGG_RETINOL_METABOLISM","KEGG_TYROSINE_METABOLISM","KEGG_VIBRIO_CHOLERAE_INFECTION"]
cols_b = ["#F8766D","#A3A500","#00BF7D","#00B0F6","#E76BF3"]
grid_b = [2500,5000,7500,10000,12500,15000,17500,20000,22500]

# ---------------- Panel C / D data ----------------
bp_terms = ["chromosome segregation","nuclear division","mitotic sister chromatid segregation","mitotic cell cycle phase transition","sister chromatid segregation","mitotic nuclear division","nuclear chromosome segregation","regulation of chromosome segregation","regulation of chromosome separation","chromosome separation"]
bp_count = [17,18,14,17,14,15,14,10,9,9]
bp_q = [0.0002,0.0002,0.0002,0.0002,0.0002,0.0002,0.0002,0.0002,0.0002,0.0002]
cc_terms = ["chromosomal region","chromosome, centromeric region","condensed chromosome, centromeric region","condensed chromosome","kinetochore","spindle","spindle midzone","microtubule associated complex","chromocenter","anaphase\u2212promoting complex"]
cc_count = [15,13,9,10,8,9,4,6,3,3]
cc_q = [0.0002,0.0002,0.0002,0.0002,0.0002,0.0002,0.0002,0.0002,0.0002,0.0002]
mf_terms = ["microtubule motor activity","microtubule binding","cytoskeletal motor activity","tubulin binding","ATP hydrolysis activity","DNA secondary structure binding","ubiquitin conjugating enzyme activity","single\u2212stranded DNA binding","ubiquitin\u2212like protein conjugating enzyme activity","protein serine/threonine/tyrosine kinase activity"]
mf_count = [4,6,4,6,5,2,2,3,2,2]
mf_q = [0.002,0.002,0.003,0.003,0.021,0.033,0.0335,0.0325,0.037,0.042]
kegg_terms = ["Cell cycle","Oocyte meiosis","Motor proteins","Human T\u2212cell leukemia virus 1 infection","Progesterone\u2212mediated oocyte maturation","Ubiquitin mediated proteolysis","Cellular senescence","p53 signaling pathway"]
kegg_count = [9,4,4,4,3,3,3,2]
kegg_q = [0.0003,0.0052,0.0058,0.0062,0.0085,0.0165,0.0175,0.0443]
QSTOPS = [(0,"#ff0000"),(0.25,"#e4004a"),(0.5,"#c1007c"),(0.75,"#9700ba"),(1,"#0000ff")]

# ---------------- Letters ----------------
T("A", 31, 64, 86, baseline="alphabetic")
T("B", 1296, 64, 86, baseline="alphabetic")
T("C", 27, 1416, 86, baseline="alphabetic")
T("D", 1296, 1416, 86, baseline="alphabetic")

# ---------------- Panel A ----------------
x_heat = sc([0, 460], [103, 1253])
y_top = sc([0, 5], [228.7, 74.5])
bars = []
prev = 0
for e, v in zip(bar_end, bar_val):
    bars.append({"s": prev, "e": e, "v": v, "g": "Low" if e <= LOW_END else "High"})
    prev = e
L.append(alt.Chart(D(bars)).mark_rect().encode(
    x=alt.X("s:Q", scale=x_heat, axis=None), x2="e:Q",
    y=alt.Y("v:Q", scale=y_top, axis=alt.Axis(orient="left", offset=-px(100), values=[0, 2, 4], title=None, domainColor="black", domainWidth=1.5,
            tickColor="black", tickSize=5, labelFontSize=16, labelColor="black", grid=False, labelPadding=2)),
    y2=alt.datum(0),
    color=alt.Color("g:N", scale=alt.Scale(domain=["Low", "High"], range=["#1565ae", "#e8080a"]), legend=None)))
T("LINC02657", 46, 152, 21, align="center", angle=270)
T("expression", 69, 152, 21, align="center", angle=270)
BOX(288, 307, 124, 143, fill="#1565ae")
BOX(288, 307, 145, 164, fill="#e8080a")
T("Low", 313, 134, 18)
T("High", 313, 155, 18)

y_heat = band(genes, [233, 1181])
col_heat = alt.Scale(domain=[-4, 0, 4], range=["#0000ff", "#ffffff", "#ff0000"], interpolate="lab")
rows = []
for r, s in enumerate(heat_base):
    for i, ch in enumerate(s):
        if ch != "f":
            rows.append({"g": genes[r], "s": 2 * i, "e": 2 * i + 2, "z": Z[ch]})
L.append(alt.Chart(D(rows)).mark_rect().encode(
    x=alt.X("s:Q", scale=x_heat, axis=None), x2="e:Q",
    y=alt.Y("g:N", scale=y_heat, axis=alt.Axis(orient="left", offset=-px(100), title=None, domain=False, ticks=False, labelFontSize=17,
            labelColor="black", labelPadding=6, labelLimit=300, labelOverlap=False, grid=False)),
    color=alt.Color("z:Q", scale=col_heat, legend=None)))
rows = []
for smp, codes in stripes.items():
    for r, ch in enumerate(codes):
        if ch != ".":
            rows.append({"g": genes[r], "s": smp, "e": smp + 1, "z": Z[ch]})
L.append(alt.Chart(D(rows)).mark_rect().encode(
    x=alt.X("s:Q", scale=x_heat, axis=None), x2="e:Q",
    y=alt.Y("g:N", scale=y_heat, axis=None),
    color=alt.Color("z:Q", scale=col_heat, legend=None)))
L.append(alt.Chart(D([{"g": g, "t": "***"} for g in genes])).mark_text(fontSize=21, align="left", baseline="middle", dy=4).encode(
    x=alt.value(px(1257)), y=alt.Y("g:N", scale=y_heat, axis=None), text="t:N"))

# z colour bar
GRAD(653, 782, 1191, 1213, [(0, "#0000ff"), (0.03, "#0000ff"), (0.26, "#a98cff"), (0.5, "#ffffff"), (0.74, "#ff9e81"), (0.97, "#ff0000"), (1, "#ff0000")])
x_z = sc([-4, 4], [656, 778.6])
zt = [-4, -2, 0, 2, 4]
for a, b in [(1191, 1195), (1209, 1213)]:
    L.append(alt.Chart(D([{"z": z} for z in zt])).mark_rule(color="white", strokeWidth=1).encode(
        x=alt.X("z:Q", scale=x_z, axis=None), y=alt.value(px(a)), y2=alt.value(px(b))))
L.append(alt.Chart(D([{"z": z, "t": str(z).replace("-", "\u2212")} for z in zt])).mark_text(fontSize=18, baseline="middle", align="center").encode(
    x=alt.X("z:Q", scale=x_z, axis=None), y=alt.value(px(1225)), text="t:N"))
T("Z\u2212score", 644, 1212, 17, align="right", weight="bold")

# ---------------- Panel B ----------------
X0, X1 = 1414.6, 2308
RD = [0, 22575]
x_b = sc(RD, [X0, X1])
y_es = sc([-0.803, 0.123], [567, 243])
y_m = sc([-8.5, 7.4], [900, 683])
for a, b in [(243, 567), (683, 900)]:
    L.append(alt.Chart(D([{"r": r} for r in grid_b])).mark_rule(color="#f3f3f3", strokeWidth=1).encode(
        x=alt.X("r:Q", scale=x_b, axis=None), y=alt.value(px(a)), y2=alt.value(px(b))))
AX_B = dict(orient="left", offset=-px(X0), title=None, domainColor="black", domainWidth=1.6, tickColor="#333333", tickSize=4,
            labelFontSize=12, labelColor="#4d4d4d", grid=False, labelPadding=2)
L.append(alt.Chart(D([{"r": r, "m": m, "o": 0} for r, m in metric])).mark_area(color="#c6c6c6").encode(
    x=alt.X("r:Q", scale=x_b, axis=alt.Axis(orient="bottom", offset=px(900) - H, values=[5000, 10000, 15000, 20000], format="d", title=None, domainColor="black", domainWidth=2.2,
            tickColor="#333333", tickSize=3, labelFontSize=12, labelColor="#4d4d4d", grid=False, labelPadding=0, labelFlush=False)),
    y=alt.Y("m:Q", scale=y_m, axis=alt.Axis(values=[-8, -4, 0, 4], **AX_B)),
    y2="o:Q"))
first = True
for ser, col in zip([es_red, es_olive, es_green, es_blue, es_mag], cols_b):
    yax = alt.Axis(values=[0, -0.2, -0.4, -0.6, -0.8], format=".1f", labelExpr="replace(datum.label,'\u2212','-')", **AX_B) if first else None
    first = False
    L.append(alt.Chart(D([{"r": r, "es": v, "i": i} for i, (r, v) in enumerate(ser)])).mark_line(color=col, strokeWidth=3.6, strokeJoin="miter").encode(
        x=alt.X("r:Q", scale=x_b, axis=None), y=alt.Y("es:Q", scale=y_es, axis=yax), order=alt.Order("i:Q")))
rug = []
for row, (name, vals) in enumerate([("blue", rug_blue), ("green", rug_green), ("red", rug_red), ("mag", rug_mag), ("olive", rug_olive)]):
    for v in vals:
        rug.append({"r": v, "lo": 4 - row, "hi": 5 - row, "k": name})
L.append(alt.Chart(D(rug)).mark_rule(strokeWidth=1.3).encode(
    x=alt.X("r:Q", scale=x_b, axis=None),
    y=alt.Y("lo:Q", scale=sc([0, 5], [679.7, 571.3]), axis=None), y2="hi:Q",
    color=alt.Color("k:N", scale=alt.Scale(domain=["red", "olive", "green", "blue", "mag"], range=cols_b), legend=None)))
L.append(alt.Chart(D([{"y": 0}])).mark_rule(color="black", strokeWidth=1.6).encode(x=alt.value(px(X0)), y=alt.value(px(571)), y2=alt.value(px(680))))
T("Running Enrichment Score", 1375, 405, 14.6, align="center", angle=270)
T("Ranked List Metric", 1375, 790, 14.5, align="center", angle=270)
T("Rank in Ordered Dataset", 1861, 925, 14.5, align="center")
ky = [245, 276, 308, 339, 370]
for n, c, y in zip(names_b, cols_b, ky):
    L.append(alt.Chart(D([{"y": 0}])).mark_rule(color=c, strokeWidth=3.5).encode(x=alt.value(px(1906)), x2=alt.value(px(1931)), y=alt.value(px(y))))
    T(n, 1941, y, 10.8)

# ---------------- Panel C ----------------
CL, CR = 634.6, 1116.7
x_c = sc([-0.9, 18.9], [CL, CR])
q_col = alt.Scale(domain=[0, 0.042], range=["#ff0000", "#0000ff"], interpolate="lab")
GC = "#f2f2f2"
def facet(terms, counts, qs, top, bottom, strip, xaxis):
    y_s = band(terms, [top + 1.5, bottom + 1.5], 0.1, 0.15)
    L.append(alt.Chart(D([{"t": t} for t in terms])).mark_rule(color=GC).encode(
        y=alt.Y("t:N", scale=y_s, axis=alt.Axis(orient="left", offset=-px(CL), title=None, domain=False, tickColor="#333333", tickSize=5, labelFontSize=26.1, labelColor="black",
                labelLimit=700, labelOverlap=False, labelPadding=6, grid=False)),
        x=alt.value(px(CL)), x2=alt.value(px(CR))))
    L.append(alt.Chart(D([{"c": c} for c in [0, 2.5, 5, 7.5, 10, 12.5, 15, 17.5]])).mark_rule(color=GC).encode(
        x=alt.X("c:Q", scale=x_c, axis=None), y=alt.value(px(top)), y2=alt.value(px(bottom))))
    ax = alt.Axis(orient="bottom", offset=px(bottom) - H, values=[0, 5, 10, 15], title=None, domain=False, tickColor="#333333", tickSize=5, labelFontSize=24,
                  labelColor="black", grid=False, labelPadding=4, labelFlush=False) if xaxis else None
    L.append(alt.Chart(D([{"t": t, "c": c, "q": q} for t, c, q in zip(terms, counts, qs)])).mark_bar(stroke=None).encode(
        x=alt.X("c:Q", scale=x_c, axis=ax, stack=None),
        y=alt.Y("t:N", scale=y_s, axis=None),
        color=alt.Color("q:Q", scale=q_col, legend=None)))
    BOX(CL, CR, top, bottom, stroke="#444444", sw=1.8)
    BOX(CR, 1154, top, bottom, fill="#e5e5e5", stroke="#555555", sw=1.5)
    T(strip, 1135, (top + bottom) / 2, 19, align="center", angle=90, color="#1a1a1a")
facet(bp_terms, bp_count, bp_q, 1465, 1779, "BP", False)
facet(cc_terms, cc_count, cc_q, 1793, 2107, "CC", False)
facet(mf_terms, mf_count, mf_q, 2121, 2435, "MF", True)
T("Count", 875, 2481, 26, align="center")
T("qvalu", 1190, 1851, 22)
GRAD(1190, 1228, 1873, 2061, QSTOPS, vertical=True)
y_lc = sc([0, 0.042], [1873, 2061])
qt = [0.01, 0.02, 0.03, 0.04]
for a, b in [(1190, 1198), (1220, 1228)]:
    L.append(alt.Chart(D([{"q": q} for q in qt])).mark_rule(color="#ffffff", strokeWidth=1, opacity=0.8).encode(
        y=alt.Y("q:Q", scale=y_lc, axis=None), x=alt.value(px(a)), x2=alt.value(px(b))))
L.append(alt.Chart(D([{"q": q, "t": "0"} for q in qt])).mark_text(fontSize=18, align="left", baseline="middle").encode(
    y=alt.Y("q:Q", scale=y_lc, axis=None), x=alt.value(px(1240)), text="t:N"))

# ---------------- Panel D ----------------
DL, DR, DT, DB = 1746, 2310, 1496, 2422
x_d = sc([-0.45, 9.45], [DL, DR])
y_d = band(kegg_terms, [1507.5, 2415], 0.1, 0.05)
qd_col = alt.Scale(domain=[0.0002, 0.0443], range=["#ff0000", "#0000ff"], interpolate="lab")
L.append(alt.Chart(D([{"t": t} for t in kegg_terms])).mark_rule(color=GC).encode(
    y=alt.Y("t:N", scale=y_d, axis=alt.Axis(orient="left", offset=-px(DL), title=None, domain=False, tickColor="#333333", tickSize=5, labelFontSize=25, labelColor="black",
            labelLimit=700, labelOverlap=False, labelPadding=6, grid=False)),
    x=alt.value(px(DL)), x2=alt.value(px(DR))))
L.append(alt.Chart(D([{"c": c} for c in [0, 1.25, 2.5, 3.75, 5, 6.25, 7.5, 8.75]])).mark_rule(color=GC).encode(
    x=alt.X("c:Q", scale=x_d, axis=None), y=alt.value(px(DT)), y2=alt.value(px(DB))))
L.append(alt.Chart(D([{"t": t, "c": c, "q": q} for t, c, q in zip(kegg_terms, kegg_count, kegg_q)])).mark_bar(stroke=None).encode(
    x=alt.X("c:Q", scale=x_d, stack=None, axis=alt.Axis(orient="bottom", offset=px(DB) - H, values=[0, 2.5, 5, 7.5], format=".1f", title=None, domain=False, tickColor="#333333", tickSize=5,
            labelFontSize=24, labelColor="black", grid=False, labelPadding=4, labelFlush=False)),
    y=alt.Y("t:N", scale=y_d, axis=None),
    color=alt.Color("q:Q", scale=qd_col, legend=None)))
BOX(DL, DR, DT, DB, stroke="#444444", sw=1.8)
T("Count", 2028, 2475, 26, align="center")
T("qvalue", 2345, 1866, 22)
GRAD(2345, 2382, 1888, 2068, QSTOPS, vertical=True)
y_ld = sc([0.0002, 0.0443], [1888, 2068])
for a, b in [(2345, 2352), (2375, 2382)]:
    L.append(alt.Chart(D([{"q": q} for q in qt])).mark_rule(color="#ffffff", strokeWidth=1, opacity=0.8).encode(
        y=alt.Y("q:Q", scale=y_ld, axis=None), x=alt.value(px(a)), x2=alt.value(px(b))))
L.append(alt.Chart(D([{"q": q, "t": "%.2f" % q} for q in qt])).mark_text(fontSize=17.5, align="left", baseline="middle").encode(
    y=alt.Y("q:Q", scale=y_ld, axis=None), x=alt.value(px(2391)), text="t:N"))

chart = alt.layer(*L).resolve_scale(x="independent", y="independent", color="independent").properties(
    width=W, height=H, padding=0, autosize=alt.AutoSizeParams(type="none")
).configure(font=FONT).configure_view(stroke="transparent", strokeWidth=0)
chart.save("out.html", embed_options={"renderer": "svg", "actions": False})
